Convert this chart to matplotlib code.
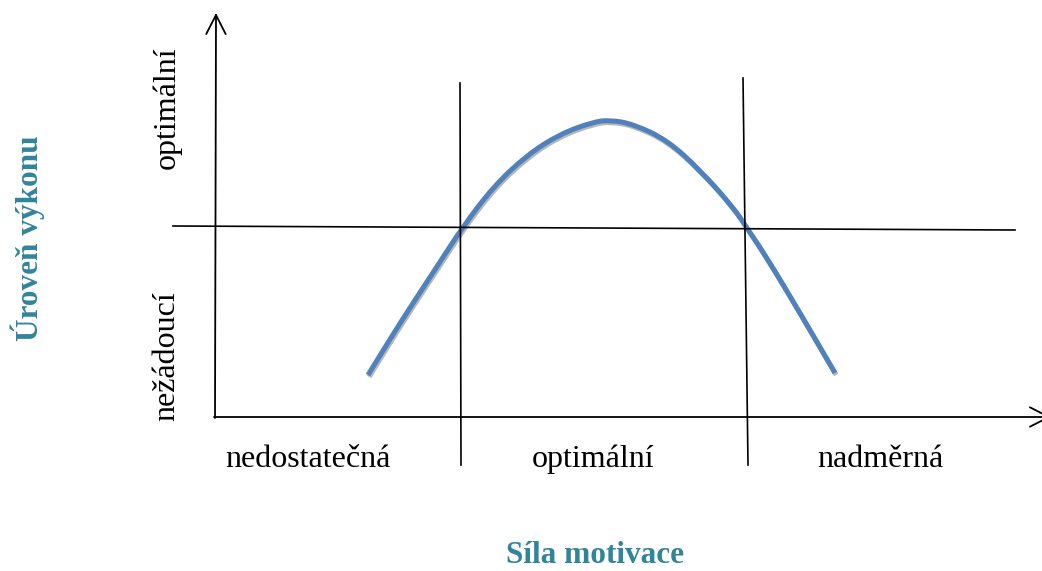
import matplotlib
matplotlib.use("Agg")
import matplotlib.pyplot as plt
import matplotlib.patheffects as pe
from matplotlib.path import Path
from matplotlib.patches import PathPatch

# Yerkes-Dodson diagram, units = pixels of the original picture (y grows downwards)
motivace = [368, 390, 415, 440, 462, 493, 527, 560, 593, 610, 633, 667, 700, 733, 747, 767, 800, 835]
vykon = [375, 339, 300, 262, 228, 187, 155, 134, 122, 120, 124, 140, 170, 207, 228, 258, 313, 373]

hranice_x = [[460, 461], [743, 748]]     # vertical dividers (top x, bottom x)
hranice_y = [[83, 465], [78, 465]]
prah_x = [173, 1015]                    # horizontal threshold line
prah_y = [226, 230]

x_labels = ["nedostatečná", "optimální", "nadměrná"]
x_label_pos = [308, 593, 880]
y_labels = ["nežádoucí", "optimální"]
y_label_pos = [356, 108]

teal = "#31849B"
blue = "#4F81BD"
plt.rcParams["font.family"] = ["Liberation Serif", "DejaVu Serif"]

fig = plt.figure(figsize=(10.42, 5.71), dpi=100)
ax = fig.add_axes([0, 0, 1, 1])
ax.set_xlim(0, 1042)
ax.set_ylim(571, 0)
ax.axis("off")

# axes with open arrow heads
arrow = dict(arrowstyle="->,head_length=0.55,head_width=0.28", lw=1.3,
             color="black", shrinkA=0, shrinkB=0, mutation_scale=25)
ax.annotate("", xy=(216, 13), xytext=(215, 418), arrowprops=arrow, annotation_clip=False)
ax.annotate("", xy=(1051, 417), xytext=(214, 417), arrowprops=arrow, annotation_clip=False)

# dividers
ax.plot(prah_x, prah_y, color="black", lw=1.2)
for hx, hy in zip(hranice_x, hranice_y):
    ax.plot(hx, hy, color="black", lw=1.2)

# smooth curve through the read points (quadratic segments via midpoints)
pts = list(zip(motivace, vykon))
verts = [pts[0]]
codes = [Path.MOVETO]
for i in range(1, len(pts) - 1):
    mid = ((pts[i][0] + pts[i + 1][0]) / 2, (pts[i][1] + pts[i + 1][1]) / 2)
    verts += [pts[i], mid]
    codes += [Path.CURVE3, Path.CURVE3]
verts.append(pts[-1])
codes.append(Path.LINETO)
curve = PathPatch(Path(verts, codes), fill=False, edgecolor=blue, lw=3.6,
                  capstyle="butt", joinstyle="round",
                  path_effects=[pe.SimpleLineShadow(offset=(0.8, -1.4), shadow_color="#9a9a9a", alpha=0.7),
                                pe.Normal()])
ax.add_patch(curve)

for lab, x in zip(x_labels, x_label_pos):
    ax.text(x, 467, lab, fontsize=23, ha="center", va="baseline")
for lab, y in zip(y_labels, y_label_pos):
    ax.text(167, y, lab, fontsize=23, ha="center", va="center", rotation=90)

ax.text(595, 563, "Síla motivace", fontsize=22.5, fontweight="bold", color=teal,
        ha="center", va="baseline")
ax.text(28, 238, "Úroveň výkonu", fontsize=22.5, fontweight="bold", color=teal,
        ha="center", va="center", rotation=90)

fig.savefig("out.png", dpi=100)
